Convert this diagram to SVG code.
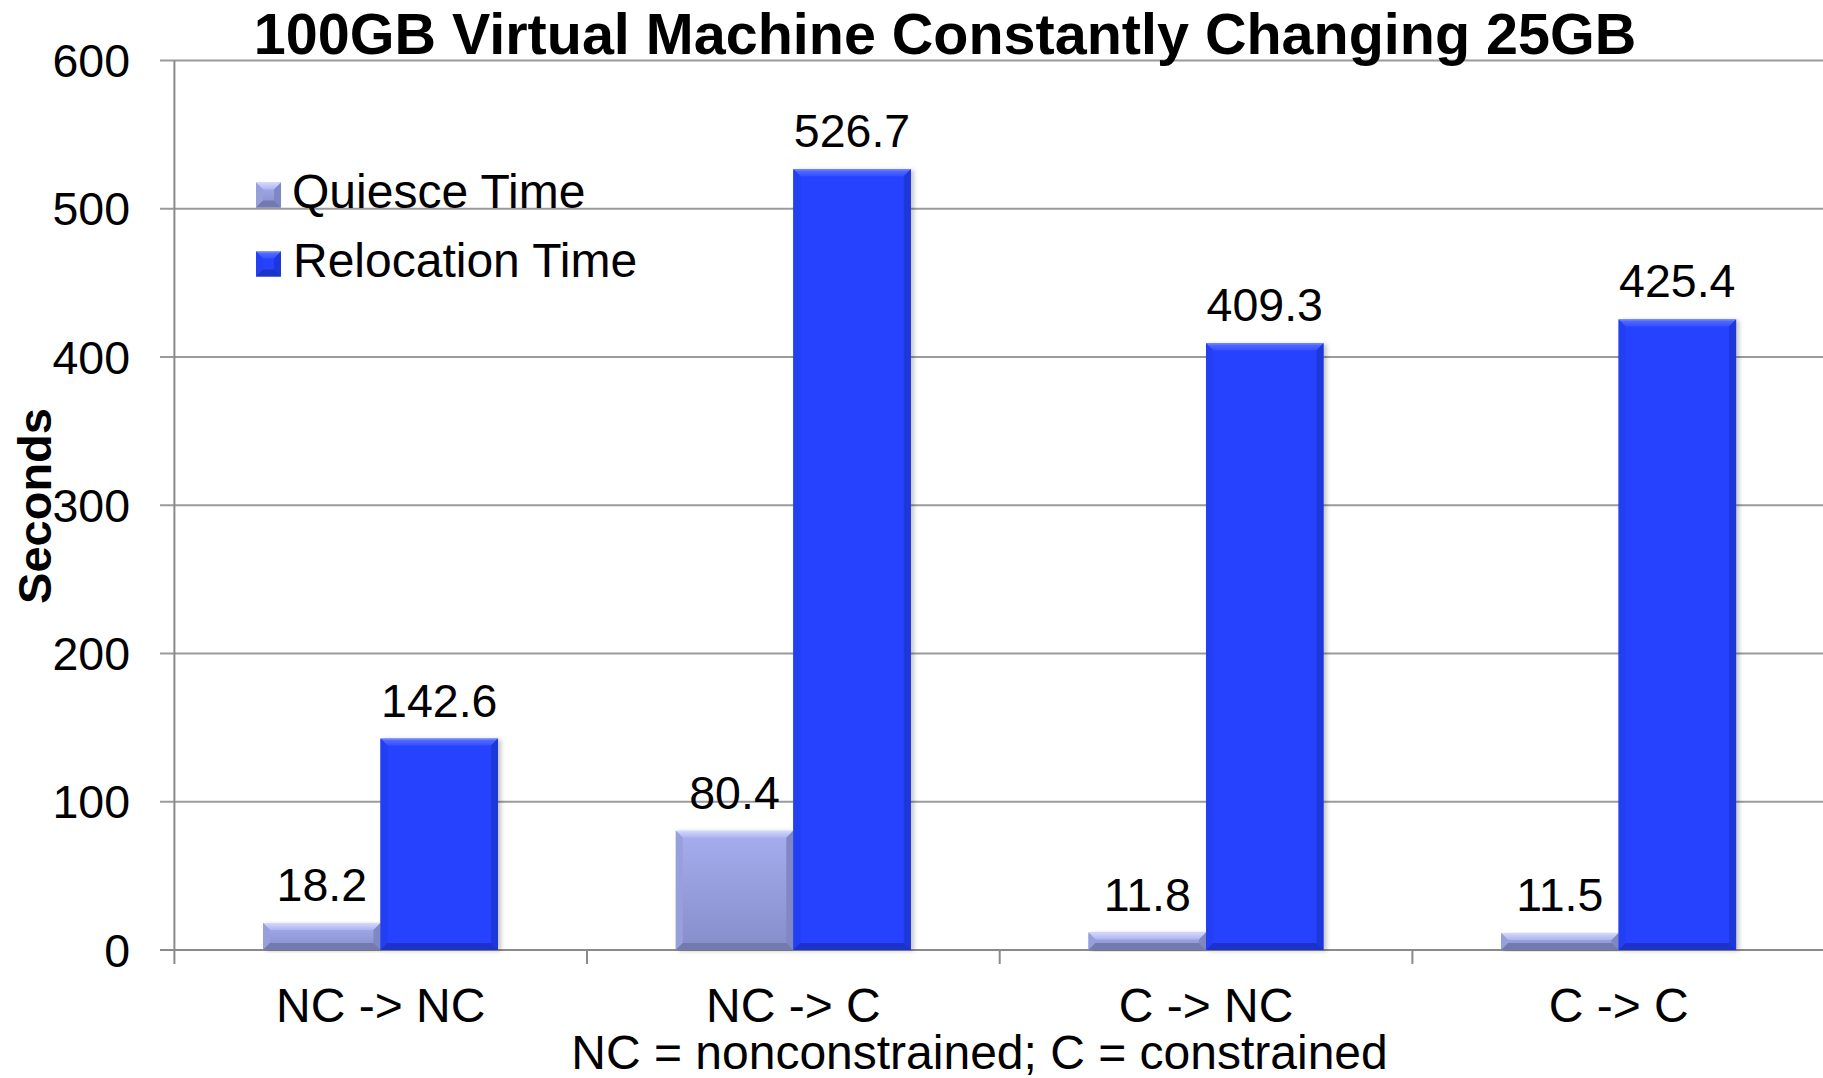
<svg xmlns="http://www.w3.org/2000/svg" width="1823" height="1078" viewBox="0 0 1823 1078">
  <style>
    text { font-family: "Liberation Sans", Arial, Helvetica, sans-serif; fill: #000; }
    .title { font-size: 57.5px; font-weight: bold; text-anchor: middle; }
    .axt { font-size: 47px; font-weight: bold; text-anchor: middle; }
    .tick { font-size: 46.5px; text-anchor: end; }
    .val { font-size: 46.5px; text-anchor: middle; }
    .cat { font-size: 48px; text-anchor: middle; }
    .note { font-size: 48px; text-anchor: middle; }
    .leg { font-size: 48px; }
    .grid { stroke: #9a9a9a; stroke-width: 2; fill: none; }
    .axis { stroke: #8a8a8a; stroke-width: 2; fill: none; }
    .q-body { fill: url(#qBody); }
    .q-top { fill: url(#qTop); }
    .q-left { fill: #979fdc; }
    .q-right { fill: #7f87c4; }
    .q-bot { fill: #727aae; }
    .r-body { fill: #2642ff; }
    .r-top { fill: url(#rTop); }
    .r-left { fill: #2340f2; }
    .r-right { fill: #1d37da; }
    .r-bot { fill: #1c33c8; }
    .bar { filter: url(#shadow); }
  </style>
  <defs>
    <linearGradient id="qBody" x1="0" y1="0" x2="0" y2="1">
      <stop offset="0" stop-color="#a6aef0"/>
      <stop offset="1" stop-color="#868dca"/>
    </linearGradient>
    <linearGradient id="qTop" x1="0" y1="0" x2="0" y2="1">
      <stop offset="0" stop-color="#d4d9fb"/>
      <stop offset="1" stop-color="#acb3f0"/>
    </linearGradient>
    <linearGradient id="rTop" x1="0" y1="0" x2="0" y2="1">
      <stop offset="0" stop-color="#7d8fff"/>
      <stop offset="0.3" stop-color="#4e67ff"/>
      <stop offset="1" stop-color="#3450ff"/>
    </linearGradient>
    <filter id="shadow" x="-10%" y="-5%" width="125%" height="115%">
      <feDropShadow dx="3" dy="1" stdDeviation="2" flood-color="#000" flood-opacity="0.22"/>
    </filter>
  </defs>

  <rect width="1823" height="1078" fill="#fff"/>

  <!-- gridlines, axes and tick marks -->
  <g id="connectors">
    <path class="grid" d="M160 801.75H1823M160 653.5H1823M160 505.25H1823M160 357H1823M160 208.75H1823M160 60.5H1823"/>
    <path class="axis" d="M160 950H1823M174.4 60.5V964M587 950V964M999.7 950V964M1412.4 950V964"/>
  </g>

  <!-- y axis -->
  <g id="y-axis">
    <text class="tick" x="130" y="966.5">0</text>
    <text class="tick" x="130" y="818.2">100</text>
    <text class="tick" x="130" y="670">200</text>
    <text class="tick" x="130" y="521.7">300</text>
    <text class="tick" x="130" y="373.5">400</text>
    <text class="tick" x="130" y="225.2">500</text>
    <text class="tick" x="130" y="77">600</text>
    <text class="axt" transform="translate(51,506) rotate(-90)">Seconds</text>
  </g>

  <!-- NC -> NC -->
  <g id="bar-q-nc-nc" class="bar">
    <rect class="q-body" x="263" y="923" width="117.5" height="27"/>
    <polygon class="q-top" points="263,923 380.5,923 373.5,930 270,930"/>
    <polygon class="q-left" points="263,923 270,930 270,943 263,950"/>
    <polygon class="q-right" points="380.5,923 380.5,950 373.5,943 373.5,930"/>
    <polygon class="q-bot" points="263,950 270,943 373.5,943 380.5,950"/>
  </g>
  <g id="bar-r-nc-nc" class="bar">
    <rect class="r-body" x="380.5" y="738.6" width="117.5" height="211.4"/>
    <polygon class="r-top" points="380.5,738.6 498,738.6 491,745.6 387.5,745.6"/>
    <polygon class="r-left" points="380.5,738.6 387.5,745.6 387.5,943 380.5,950"/>
    <polygon class="r-right" points="498,738.6 498,950 491,943 491,745.6"/>
    <polygon class="r-bot" points="380.5,950 387.5,943 491,943 498,950"/>
  </g>

  <!-- NC -> C -->
  <g id="bar-q-nc-c" class="bar">
    <rect class="q-body" x="675.8" y="830.8" width="117.5" height="119.2"/>
    <polygon class="q-top" points="675.8,830.8 793.3,830.8 786.3,837.8 682.8,837.8"/>
    <polygon class="q-left" points="675.8,830.8 682.8,837.8 682.8,943 675.8,950"/>
    <polygon class="q-right" points="793.3,830.8 793.3,950 786.3,943 786.3,837.8"/>
    <polygon class="q-bot" points="675.8,950 682.8,943 786.3,943 793.3,950"/>
  </g>
  <g id="bar-r-nc-c" class="bar">
    <rect class="r-body" x="793.3" y="169.2" width="117.5" height="780.8"/>
    <polygon class="r-top" points="793.3,169.2 910.8,169.2 903.8,176.2 800.3,176.2"/>
    <polygon class="r-left" points="793.3,169.2 800.3,176.2 800.3,943 793.3,950"/>
    <polygon class="r-right" points="910.8,169.2 910.8,950 903.8,943 903.8,176.2"/>
    <polygon class="r-bot" points="793.3,950 800.3,943 903.8,943 910.8,950"/>
  </g>

  <!-- C -> NC -->
  <g id="bar-q-c-nc" class="bar">
    <rect class="q-body" x="1088.5" y="932.5" width="117.5" height="17.5"/>
    <polygon class="q-top" points="1088.5,932.5 1206,932.5 1199,939.5 1095.5,939.5"/>
    <polygon class="q-left" points="1088.5,932.5 1095.5,939.5 1095.5,943 1088.5,950"/>
    <polygon class="q-right" points="1206,932.5 1206,950 1199,943 1199,939.5"/>
    <polygon class="q-bot" points="1088.5,950 1095.5,943 1199,943 1206,950"/>
  </g>
  <g id="bar-r-c-nc" class="bar">
    <rect class="r-body" x="1206" y="343.2" width="117.5" height="606.8"/>
    <polygon class="r-top" points="1206,343.2 1323.5,343.2 1316.5,350.2 1213,350.2"/>
    <polygon class="r-left" points="1206,343.2 1213,350.2 1213,943 1206,950"/>
    <polygon class="r-right" points="1323.5,343.2 1323.5,950 1316.5,943 1316.5,350.2"/>
    <polygon class="r-bot" points="1206,950 1213,943 1316.5,943 1323.5,950"/>
  </g>

  <!-- C -> C -->
  <g id="bar-q-c-c" class="bar">
    <rect class="q-body" x="1501.1" y="933" width="117.5" height="17"/>
    <polygon class="q-top" points="1501.1,933 1618.6,933 1611.6,940 1508.1,940"/>
    <polygon class="q-left" points="1501.1,933 1508.1,940 1508.1,943 1501.1,950"/>
    <polygon class="q-right" points="1618.6,933 1618.6,950 1611.6,943 1611.6,940"/>
    <polygon class="q-bot" points="1501.1,950 1508.1,943 1611.6,943 1618.6,950"/>
  </g>
  <g id="bar-r-c-c" class="bar">
    <rect class="r-body" x="1618.6" y="319.4" width="117.5" height="630.6"/>
    <polygon class="r-top" points="1618.6,319.4 1736.1,319.4 1729.1,326.4 1625.6,326.4"/>
    <polygon class="r-left" points="1618.6,319.4 1625.6,326.4 1625.6,943 1618.6,950"/>
    <polygon class="r-right" points="1736.1,319.4 1736.1,950 1729.1,943 1729.1,326.4"/>
    <polygon class="r-bot" points="1618.6,950 1625.6,943 1729.1,943 1736.1,950"/>
  </g>

  <!-- value labels -->
  <g id="values">
    <text class="val" x="321.8" y="901">18.2</text>
    <text class="val" x="439.3" y="716.6">142.6</text>
    <text class="val" x="734.5" y="808.8">80.4</text>
    <text class="val" x="852" y="147.2">526.7</text>
    <text class="val" x="1147.3" y="910.5">11.8</text>
    <text class="val" x="1264.8" y="321.2">409.3</text>
    <text class="val" x="1559.8" y="911">11.5</text>
    <text class="val" x="1677.3" y="297.4">425.4</text>
  </g>

  <!-- category axis -->
  <g id="x-axis">
    <text class="cat" x="380.7" y="1022">NC -&gt; NC</text>
    <text class="cat" x="793.4" y="1022">NC -&gt; C</text>
    <text class="cat" x="1206" y="1022">C -&gt; NC</text>
    <text class="cat" x="1618.7" y="1022">C -&gt; C</text>
  </g>
  <g id="footnote">
    <text class="note" x="979.5" y="1069">NC = nonconstrained; C = constrained</text>
  </g>

  <!-- legend -->
  <g id="legend-quiesce">
    <rect class="q-body" x="256" y="182.5" width="25" height="25"/>
    <polygon class="q-top" points="256,182.5 281,182.5 274,189.5 263,189.5"/>
    <polygon class="q-left" points="256,182.5 263,189.5 263,200.5 256,207.5"/>
    <polygon class="q-right" points="281,182.5 281,207.5 274,200.5 274,189.5"/>
    <polygon class="q-bot" points="256,207.5 263,200.5 274,200.5 281,207.5"/>
    <text class="leg" x="292" y="208">Quiesce Time</text>
  </g>
  <g id="legend-relocation">
    <rect class="r-body" x="256" y="251.5" width="25" height="25"/>
    <polygon class="r-top" points="256,251.5 281,251.5 274,258.5 263,258.5"/>
    <polygon class="r-left" points="256,251.5 263,258.5 263,269.5 256,276.5"/>
    <polygon class="r-right" points="281,251.5 281,276.5 274,269.5 274,258.5"/>
    <polygon class="r-bot" points="256,276.5 263,269.5 274,269.5 281,276.5"/>
    <text class="leg" x="293" y="277">Relocation Time</text>
  </g>

  <!-- title -->
  <g id="title">
    <text class="title" x="945" y="54">100GB Virtual Machine Constantly Changing 25GB</text>
  </g>
</svg>
